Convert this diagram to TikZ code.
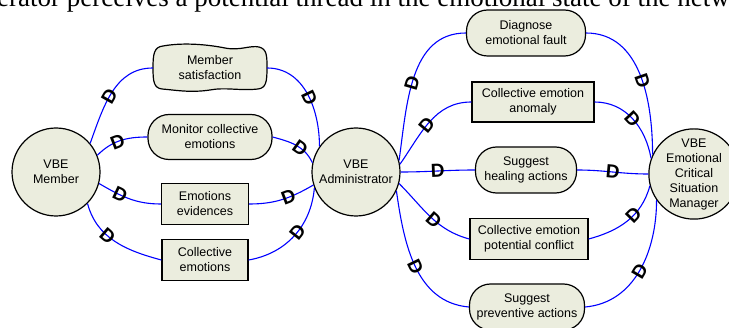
\documentclass[tikz,border=0pt]{standalone}
\usepackage{fontspec}
\setmainfont{Liberation Serif}
\setsansfont{Liberation Sans}
\definecolor{nodefill}{RGB}{235,237,222}

\begin{document}
\begin{tikzpicture}[x=1pt,y=1pt,
 every node/.style={font=\sffamily\fontsize{12.5}{15}\selectfont, align=center},
 actor/.style={circle, draw=black, line width=1.2pt, fill=nodefill, minimum size=88pt, inner sep=0pt},
 process/.style={draw=black, line width=1.2pt, fill=nodefill, rounded corners=21pt, inner sep=0pt},
 store/.style={draw=black, line width=1.3pt, fill=nodefill, inner sep=0pt},
 goal/.style={draw=black, line width=1.2pt, fill=nodefill},
 flow/.style={blue, line width=1.1pt},
 dmark/.style={sloped, inner sep=0pt, text=black, font=\sffamily\bfseries\fontsize{19}{19}\selectfont}]
 \useasboundingbox (0,0) rectangle (729,327);
 \clip (0,0) rectangle (729,327);
 \node[anchor=base west, inner sep=0pt, font=\rmfamily\fontsize{27}{27}\selectfont] (headline) at (-3,320) {erator perceives a potential thread in the emotional state of the netw};
 \node[actor] (member) at (56,155) {VBE\\Member};
 \node[actor] (admin) at (356,155) {VBE\\Administrator};
 \node[actor] (manager) at (694,153) {VBE\\Emotional\\Critical\\Situation\\Manager};
 \begin{scope}[shift={(210,259)}]
  \draw[goal] (-57,0) .. controls (-57,14) and (-56,21) .. (-47,22)
   .. controls (-25,26) and (0,23) .. (15,20) .. controls (30,17) and (40,23) .. (49,21)
   .. controls (57,19) and (57,12) .. (57,0) .. controls (57,-14) and (56,-20) .. (48,-21)
   .. controls (30,-23) and (15,-19) .. (0,-22) .. controls (-20,-25) and (-35,-22) .. (-48,-21)
   .. controls (-56,-20) and (-57,-14) .. (-57,0) -- cycle;
 \end{scope}
 \node[minimum width=114pt, minimum height=45pt, inner sep=0pt] (satisfaction) at (210,259) {Member\\satisfaction};
 \node[process, minimum width=124pt, minimum height=45pt] (monitor) at (210,190) {Monitor collective\\emotions};
 \node[store, minimum width=87pt, minimum height=41pt] (evidences) at (205,123) {Emotions\\evidences};
 \node[store, minimum width=86pt, minimum height=41pt] (collective) at (205,67) {Collective\\emotions};
 \node[process, minimum width=119pt, minimum height=46pt] (diagnose) at (526,294) {Diagnose\\emotional fault};
 \node[store, minimum width=122pt, minimum height=40pt] (anomaly) at (533,225) {Collective emotion\\anomaly};
 \node[process, minimum width=101pt, minimum height=46pt] (healing) at (526,157) {Suggest\\healing actions};
 \node[store, minimum width=118pt, minimum height=41pt] (conflict) at (529,88) {Collective emotion\\potential conflict};
 \node[process, minimum width=115pt, minimum height=46pt] (preventive) at (527,20) {Suggest\\preventive actions};
 \draw[flow] (member.40) to[out=70,in=180] node[dmark,pos=0.45] {D} (satisfaction.west);
 \draw[flow] (satisfaction.east) to[out=0,in=90] node[dmark,pos=0.55] {D} (admin.145);
 \draw[flow] (admin.168) to[out=115,in=-15] node[dmark,pos=0.4] {D} (monitor.east);
 \draw[flow] (monitor.west) to[out=180,in=45] node[dmark,pos=0.55] {D} (member.22);
 \draw[flow] (member.-15) to[out=-30,in=180] node[dmark,pos=0.35] {D} (evidences.west);
 \draw[flow] (evidences.east) to[out=0,in=210] node[dmark,pos=0.6] {D} (admin.197);
 \draw[flow] (member.-45) to[out=-75,in=165] node[dmark,pos=0.4] {D} (collective.west);
 \draw[flow] (collective.east) to[out=10,in=-95] node[dmark,pos=0.55] {D} (admin.201);
 \draw[flow] (admin.15) to[out=82,in=180] node[dmark,pos=0.45] {D} (diagnose.west);
 \draw[flow] (diagnose.east) to[out=0,in=90] node[dmark,pos=0.55] {D} (manager.155);
 \draw[flow] (admin.10) to[out=55,in=180] node[dmark,pos=0.45] {D} (anomaly.west);
 \draw[flow] (anomaly.east) to[out=0,in=100] node[dmark,pos=0.5] {D} (manager.160);
 \draw[flow] (admin.east) to[out=0,in=180] node[dmark,pos=0.5] {D} (healing.west);
 \draw[flow] (healing.east) to[out=0,in=180] node[dmark,pos=0.5] {D} (manager.west);
 \draw[flow] (admin.-15) to[out=-45,in=165] node[dmark,pos=0.55] {D} (conflict.west);
 \draw[flow] (conflict.east) to[out=15,in=-105] node[dmark,pos=0.6] {D} (manager.195);
 \draw[flow] (admin.-25) to[out=-82,in=175] node[dmark,pos=0.5] {D} (preventive.west);
 \draw[flow] (preventive.east) to[out=5,in=-90] node[dmark,pos=0.5] {D} (manager.215);
\end{tikzpicture}
\end{document}
